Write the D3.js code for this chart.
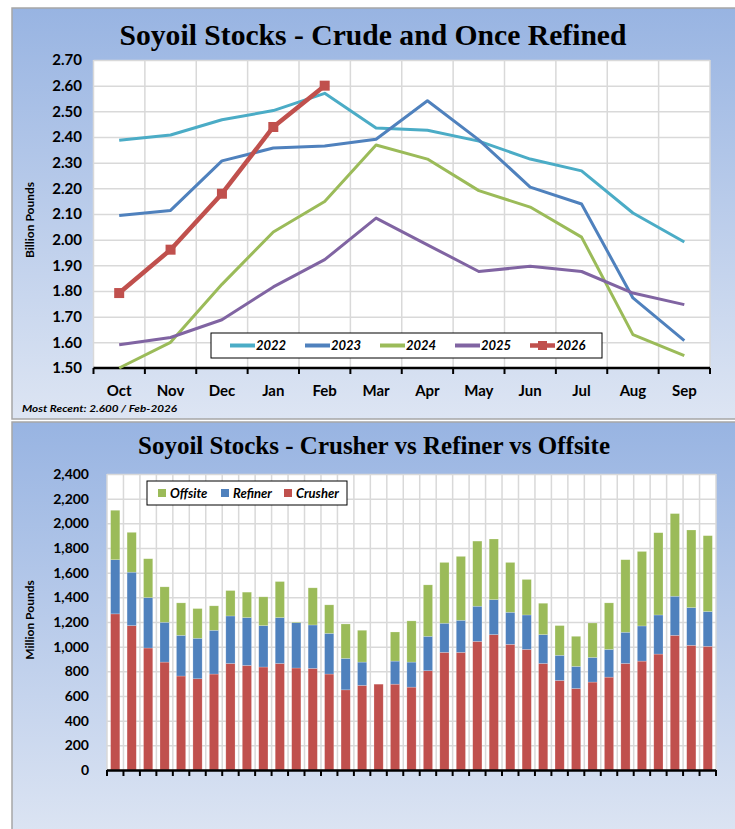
<!DOCTYPE html>
<meta charset="utf-8">
<head>
  <style>
    body { margin: 0; background: #ffffff; }
    .tick-label { font: bold 15px Lato, sans-serif; fill: #000; }
    .ytitle { font: bold 12px Lato, sans-serif; fill: #000; }
    .legend-text { font: italic bold 13px Lato, sans-serif; fill: #000; }
    .title { font-family: "Liberation Serif", serif; font-weight: bold; fill: #000; }
    .grid line { stroke: #d9d9d9; stroke-width: 1.5; }
    .grid path { display: none; }
  </style>
  <script src="https://cdn.jsdelivr.net/npm/d3@7"></script>
</head>
<body>
  <div id="viz"></div>
</body>
<script>
// ---- top chart data (billion pounds) ----
var months = ["Oct", "Nov", "Dec", "Jan", "Feb", "Mar", "Apr", "May", "Jun", "Jul", "Aug", "Sep"];
var years = ["2022", "2023", "2024", "2025", "2026"];
var colors = ["#4bacc6", "#4f81bd", "#9bbb59", "#8064a2", "#c0504d"];
var s2022 = [2.387, 2.408, 2.467, 2.503, 2.570, 2.435, 2.426, 2.384, 2.314, 2.268, 2.104, 1.991];
var s2023 = [2.094, 2.114, 2.307, 2.357, 2.365, 2.391, 2.541, 2.389, 2.205, 2.139, 1.773, 1.607];
var s2024 = [1.500, 1.600, 1.826, 2.030, 2.149, 2.369, 2.314, 2.191, 2.127, 2.010, 1.630, 1.548];
var s2025 = [1.591, 1.619, 1.688, 1.816, 1.922, 2.084, 1.980, 1.876, 1.896, 1.876, 1.792, 1.747];
var s2026 = [1.792, 1.961, 2.179, 2.439, 2.600];
var yTicks = [1.5, 1.6, 1.7, 1.8, 1.9, 2.0, 2.1, 2.2, 2.3, 2.4, 2.5, 2.6, 2.7];

// ---- bottom chart data (million pounds), Feb-2023 .. Feb-2026 ----
var crusher = [1266, 1171, 989, 875, 762, 740, 778, 864, 848, 835, 864, 827, 824, 778, 650, 686, 696, 696, 672,
               805, 954, 954, 1043, 1098, 1019, 978, 864, 726, 661, 713, 753, 864, 883, 940, 1092, 1011, 1003];
var refiner = [439, 433, 409, 323, 330, 328, 355, 385, 388, 336, 372, 368, 352, 330, 255, 189, 0, 187, 203,
               279, 236, 260, 285, 284, 260, 279, 234, 204, 179, 200, 225, 253, 285, 317, 317, 306, 282];
var offsite = [401, 323, 315, 287, 263, 241, 198, 206, 206, 233, 292, 5, 301, 231, 279, 258, 0, 236, 334,
               417, 493, 518, 528, 491, 404, 288, 254, 241, 244, 279, 377, 588, 604, 667, 670, 629, 615];
var stackKeys = ["Crusher", "Refiner", "Offsite"];
var stackColors = {"Crusher": "#c0504d", "Refiner": "#4f81bd", "Offsite": "#9bbb59"};
var legendKeys = ["Offsite", "Refiner", "Crusher"];
var barTicks = [0, 200, 400, 600, 800, 1000, 1200, 1400, 1600, 1800, 2000, 2200, 2400];

var periods = [];
for (var i = 0; i < crusher.length; i++) {
  periods.push(d3.timeFormat("%b-%Y")(new Date(2023, 1 + i, 1)));
}

var W = 735, H = 829;
var svg = d3.select("#viz").append("svg")
  .attr("width", W)
  .attr("height", H);

var defs = svg.append("defs");
var grad = defs.append("linearGradient")
  .attr("id", "panelGrad").attr("x1", 0).attr("y1", 0).attr("x2", 0).attr("y2", 1);
grad.append("stop").attr("offset", "0%").attr("stop-color", "#98b4e2");
grad.append("stop").attr("offset", "100%").attr("stop-color", "#dde5f3");

/* panels */
svg.append("rect").attr("x", 12).attr("y", 8).attr("width", W).attr("height", 411)
  .attr("fill", "url(#panelGrad)").attr("stroke", "#a6a6a6").attr("stroke-width", 1.5);
svg.append("rect").attr("x", 12).attr("y", 422).attr("width", W).attr("height", 420)
  .attr("fill", "url(#panelGrad)").attr("stroke", "#a6a6a6").attr("stroke-width", 1.5);

/* ================= top line chart ================= */
var x = d3.scaleBand().domain(months).range([93.5, 710]);
var y = d3.scaleLinear().domain([1.5, 2.7]).range([368, 60]);

svg.append("text").attr("class", "title")
  .attr("x", 373).attr("y", 45)
  .attr("text-anchor", "middle")
  .style("font-size", "29px")
  .attr("textLength", 507).attr("lengthAdjust", "spacingAndGlyphs")
  .text("Soyoil Stocks - Crude and Once Refined");

svg.append("rect").attr("x", 93.5).attr("y", 60).attr("width", 616.5).attr("height", 308).attr("fill", "#fff");

svg.append("g").attr("class", "grid")
  .attr("transform", "translate(93.5,0)")
  .call(d3.axisLeft(y).tickValues(yTicks).tickSize(-616.5).tickFormat(""));

svg.append("g").attr("class", "grid")
  .selectAll("line")
  .data(d3.range(months.length + 1))
  .enter().append("line")
    .attr("x1", function(d) { return 93.5 + d * x.step(); })
    .attr("x2", function(d) { return 93.5 + d * x.step(); })
    .attr("y1", 60).attr("y2", 368);

svg.append("g")
  .selectAll("text")
  .data(yTicks)
  .enter().append("text")
    .attr("class", "tick-label")
    .attr("x", 82)
    .attr("y", function(d) { return y(d); })
    .attr("dy", "0.35em")
    .attr("text-anchor", "end")
    .text(d3.format(".2f"));

svg.append("g")
  .attr("transform", "translate(0,368)")
  .call(d3.axisBottom(x).tickSize(0).tickPadding(17))
  .call(function(g) { g.select(".domain").remove(); })
  .selectAll("text").attr("class", "tick-label").style("font", null);

svg.append("line").attr("x1", 93.5).attr("x2", 710).attr("y1", 368).attr("y2", 368)
  .attr("stroke", "#000").attr("stroke-width", 2.5);
svg.append("g").selectAll("line")
  .data(d3.range(months.length + 1))
  .enter().append("line")
    .attr("x1", function(d) { return 93.5 + d * x.step(); })
    .attr("x2", function(d) { return 93.5 + d * x.step(); })
    .attr("y1", 368).attr("y2", 374)
    .attr("stroke", "#000").attr("stroke-width", 2);

svg.append("text").attr("class", "ytitle")
  .attr("transform", "translate(34,220) rotate(-90)")
  .attr("text-anchor", "middle")
  .text("Billion Pounds");

var series = [s2022, s2023, s2024, s2025, s2026];
var line = d3.line()
  .x(function(d, i) { return x(months[i]) + x.bandwidth() / 2; })
  .y(function(d) { return y(d); });

series.forEach(function(s, idx) {
  svg.append("path")
    .datum(s)
    .attr("fill", "none")
    .attr("stroke", colors[idx])
    .attr("stroke-width", idx == 4 ? 4.5 : 3)
    .attr("stroke-linejoin", "round")
    .attr("d", line);
});

svg.append("g").selectAll("rect")
  .data(s2026)
  .enter().append("rect")
    .attr("x", function(d, i) { return x(months[i]) + x.bandwidth() / 2 - 5; })
    .attr("y", function(d) { return y(d) - 5; })
    .attr("width", 10).attr("height", 10)
    .attr("fill", colors[4]);

var leg = svg.append("g");
leg.append("rect").attr("x", 211).attr("y", 333).attr("width", 391).attr("height", 25)
  .attr("fill", "#fff").attr("stroke", "#000").attr("stroke-width", 1);
years.forEach(function(yr, i) {
  var lx = 230 + i * 75;
  leg.append("line").attr("x1", lx).attr("x2", lx + 25).attr("y1", 345.5).attr("y2", 345.5)
    .attr("stroke", colors[i]).attr("stroke-width", i == 4 ? 4.5 : 4);
  if (i == 4) {
    leg.append("rect").attr("x", lx + 8).attr("y", 341).attr("width", 9).attr("height", 9).attr("fill", colors[i]);
  }
  leg.append("text").attr("class", "legend-text")
    .attr("x", lx + 26).attr("y", 345.5).attr("dy", "0.35em")
    .text(yr);
});

svg.append("text")
  .attr("x", 22).attr("y", 412)
  .style("font", "italic bold 10px Lato, sans-serif")
  .attr("textLength", 155).attr("lengthAdjust", "spacingAndGlyphs")
  .text("Most Recent: 2.600 / Feb-2026");

/* ================= bottom stacked bars ================= */
var xb = d3.scaleBand().domain(periods).range([107, 716]).paddingInner(0.44).paddingOuter(0.22);
var yb = d3.scaleLinear().domain([0, 2400]).range([770, 474]);

svg.append("text").attr("class", "title")
  .attr("x", 374).attr("y", 454)
  .attr("text-anchor", "middle")
  .style("font-size", "25px")
  .attr("textLength", 472).attr("lengthAdjust", "spacingAndGlyphs")
  .text("Soyoil Stocks - Crusher vs Refiner vs Offsite");

svg.append("rect").attr("x", 107).attr("y", 474).attr("width", 609).attr("height", 296).attr("fill", "#fff");

svg.append("g").attr("class", "grid")
  .attr("transform", "translate(107,0)")
  .call(d3.axisLeft(yb).tickValues(barTicks).tickSize(-609).tickFormat(""));

svg.append("g").attr("class", "grid")
  .selectAll("line")
  .data(d3.range(periods.length + 1))
  .enter().append("line")
    .attr("x1", function(d) { return 107 + d * xb.step(); })
    .attr("x2", function(d) { return 107 + d * xb.step(); })
    .attr("y1", 474).attr("y2", 770);

svg.append("g")
  .selectAll("text")
  .data(barTicks)
  .enter().append("text")
    .attr("class", "tick-label")
    .style("font-size", "14px")
    .attr("x", 89)
    .attr("y", function(d) { return yb(d); })
    .attr("dy", "0.35em")
    .attr("text-anchor", "end")
    .text(d3.format(","));

var table = periods.map(function(p, i) {
  return {period: p, Crusher: crusher[i], Refiner: refiner[i], Offsite: offsite[i]};
});
var stacked = d3.stack().keys(stackKeys)(table);

svg.append("g").selectAll("g")
  .data(stacked)
  .enter().append("g")
    .attr("fill", function(d) { return stackColors[d.key]; })
  .selectAll("rect")
  .data(function(d) { return d; })
  .enter().append("rect")
    .attr("x", function(d) { return xb(d.data.period); })
    .attr("y", function(d) { return yb(d[1]); })
    .attr("width", xb.bandwidth())
    .attr("height", function(d) { return yb(d[0]) - yb(d[1]); })
    .attr("stroke", "#ffffff").attr("stroke-opacity", 0.35).attr("stroke-width", 0.6);

svg.append("line").attr("x1", 107).attr("x2", 716).attr("y1", 770.5).attr("y2", 770.5)
  .attr("stroke", "#000").attr("stroke-width", 2.5);
svg.append("g").selectAll("line")
  .data(d3.range(periods.length + 1))
  .enter().append("line")
    .attr("x1", function(d) { return 107 + d * xb.step(); })
    .attr("x2", function(d) { return 107 + d * xb.step(); })
    .attr("y1", 770).attr("y2", 776)
    .attr("stroke", "#000").attr("stroke-width", 2);

svg.append("text").attr("class", "ytitle")
  .attr("transform", "translate(34,620) rotate(-90)")
  .attr("text-anchor", "middle")
  .text("Million Pounds");

var leg2 = svg.append("g");
leg2.append("rect").attr("x", 147).attr("y", 481).attr("width", 200).attr("height", 24)
  .attr("fill", "#fff").attr("stroke", "#000").attr("stroke-width", 1);
legendKeys.forEach(function(k, i) {
  var lx = 158 + i * 63;
  leg2.append("rect").attr("x", lx).attr("y", 489).attr("width", 8).attr("height", 8)
    .attr("fill", stackColors[k]);
  leg2.append("text").attr("class", "legend-text")
    .attr("x", lx + 12).attr("y", 493).attr("dy", "0.35em")
    .text(k);
});
</script>
